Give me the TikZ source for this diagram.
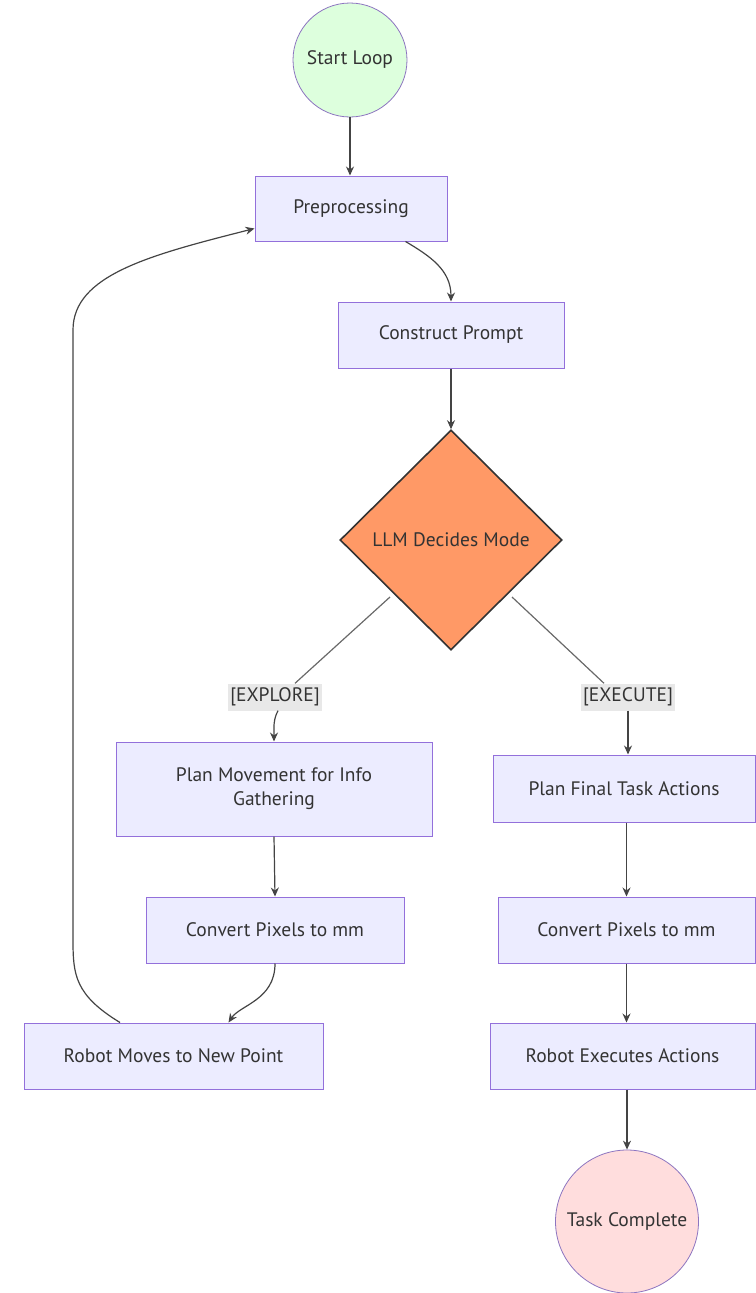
\documentclass[tikz,border=0pt]{standalone}
\usepackage{fontspec}
\setmainfont{PT Sans}
\usetikzlibrary{shapes.geometric,arrows.meta}
\definecolor{boxfill}{HTML}{ECECFF}
\definecolor{boxline}{HTML}{9370DB}
\definecolor{startfill}{HTML}{DDFFDD}
\definecolor{endfill}{HTML}{FFDDDD}
\definecolor{decfill}{HTML}{FF9966}
\definecolor{txt}{HTML}{333333}
\definecolor{lblfill}{HTML}{E8E8E8}
\definecolor{edge}{HTML}{444444}
\tikzset{
  procbox/.style={draw=boxline, fill=boxfill, line width=1pt, text=txt, align=center, inner sep=0pt, font=\fontsize{19.5}{24}\selectfont},
  termcirc/.style={circle, draw=boxline!70!gray, line width=0.8pt, text=txt, inner sep=0pt, font=\fontsize{19.5}{24}\selectfont},
  decbox/.style={diamond, draw=txt, fill=decfill, line width=1.6pt, text=txt, inner sep=0pt, minimum width=222pt, minimum height=220pt, font=\fontsize{19.5}{24}\selectfont},
  edgelbl/.style={fill=lblfill, text=txt, inner sep=2pt, minimum width=93pt, minimum height=27pt, font=\fontsize{19.5}{24}\selectfont},
  conn/.style={draw=edge, line width=1.2pt, -{Stealth[length=9pt,width=8pt]}},
  plainconn/.style={draw=edge!80, line width=1.2pt},
}
\begin{document}
\begin{tikzpicture}[x=1pt,y=-1pt]
\useasboundingbox (0,0) rectangle (755,1293);
\node[termcirc, fill=startfill, minimum size=114pt] (start) at (350,60) {Start Loop};
\node[procbox, minimum width=192pt, minimum height=65pt] (pre) at (351,208.5) {Preprocessing};
\node[procbox, minimum width=226pt, minimum height=66pt] (cp) at (451,335) {Construct Prompt};
\node[decbox] (dec) at (451,540) {LLM Decides Mode};
\node[edgelbl] (lex) at (275,697) {[EXPLORE]};
\node[edgelbl] (lexe) at (628,697) {[EXECUTE]};
\node[procbox, minimum width=316pt, minimum height=94pt] (pm) at (274,789) {Plan Movement for Info\\Gathering};
\node[procbox, minimum width=262pt, minimum height=67pt] (pf) at (624,788.5) {Plan Final Task Actions};
\node[procbox, minimum width=258pt, minimum height=66pt] (cl) at (275,930) {Convert Pixels to mm};
\node[procbox, minimum width=257pt, minimum height=66pt] (cr) at (626.5,930) {Convert Pixels to mm};
\node[procbox, minimum width=299pt, minimum height=66pt] (rm) at (173.5,1056) {Robot Moves to New Point};
\node[procbox, minimum width=265pt, minimum height=66pt] (re) at (622.5,1056) {Robot Executes Actions};
\node[termcirc, fill=endfill, minimum size=143pt] (end) at (627,1221.5) {Task Complete};

\draw[conn] (start.south) -- (pre.north -| start.south);
\path (pre.south east) ++(-42,0) coordinate (a1);
\draw[conn] (a1) .. controls (430,256) and (451,270) .. (cp.north);
\draw[conn] (cp.south) -- (dec.north);
\path (dec.center) ++(-61,57) coordinate (d1);
\path (dec.center) ++(61,57) coordinate (d2);
\draw[plainconn] (d1) -- ([xshift=20pt]lex.north);
\draw[conn] ([xshift=3pt]lex.south) .. controls (273,720) and (274,728) .. (pm.north);
\draw[plainconn] (d2) -- ([xshift=-24pt]lexe.north);
\draw[conn] (lexe.south) .. controls (628,725) and (628,740) .. (pf.north -| lexe.south);
\draw[conn] (pm.south) -- (cl.north);
\draw[conn] (pf.south -| cr.north) -- (cr.north);
\draw[conn] (cl.south) .. controls (275,1000) and (240,1005) .. ([xshift=55pt]rm.north);
\draw[conn] (cr.south) -- (re.north -| cr.south);
\draw[conn] (re.south -| end.north) -- (end.north);
\draw[conn] ([xshift=-53.5pt]rm.north) .. controls (75,995) and (73,975) .. (73,940)
  -- (73,330) .. controls (73,275) and (150,255) .. ([yshift=-20pt]pre.west);
\end{tikzpicture}
\end{document}
